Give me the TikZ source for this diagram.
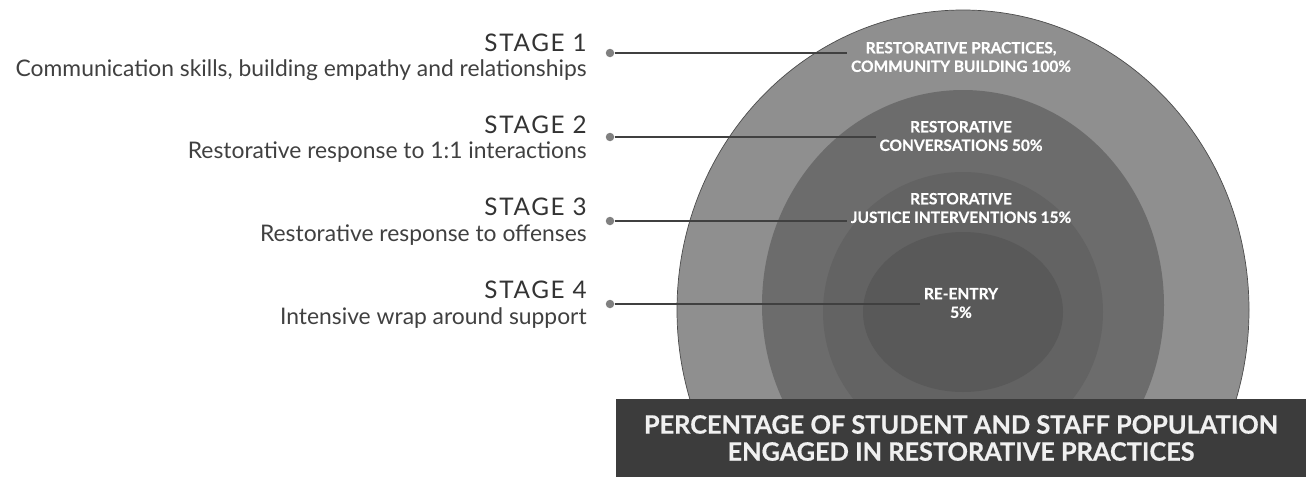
\documentclass[tikz,border=0pt]{standalone}
\usepackage{fontspec}
\setmainfont{Lato}
\usetikzlibrary{positioning}

\definecolor{ringA}{HTML}{8F8F8F}
\definecolor{ringB}{HTML}{6C6C6C}
\definecolor{ringC}{HTML}{636363}
\definecolor{ringD}{HTML}{595959}
\definecolor{capbox}{HTML}{3C3C3C}

\tikzset{
  stagetitle/.style={anchor=east, text=black!80, inner sep=0pt,
    font=\fontsize{13.8}{15}\selectfont\addfontfeature{LetterSpace=7}},
  stagedesc/.style={anchor=east, text=black!75, inner sep=0pt,
    font=\fontsize{13}{15}\selectfont},
  ringlabel/.style={align=center, text=white, inner sep=2pt,
    font=\bfseries\fontsize{8.8}{10.6}\selectfont\addfontfeature{FakeBold=0.8}},
  dotmark/.style={circle, fill=black!50, inner sep=0pt, minimum size=0.17cm},
  leader/.style={draw=black!75, line width=0.6pt}
}

\begin{document}
\begin{tikzpicture}[x=0.02cm, y=-0.02cm]
    \useasboundingbox (0,0) rectangle (1306,477);

    % Draw the rings
    \fill[ringA, draw=black!70] (963,310) ellipse [x radius=286, y radius=300];
    \fill[ringB] (963,305) ellipse [x radius=201, y radius=215];
    \fill[ringC] (963,312) ellipse [x radius=140, y radius=140];
    \fill[ringD] (963,312) ellipse [x radius=100, y radius=80];

    % Stage texts
    \node[stagetitle] (stage1) at (587,43) {STAGE 1};
    \node[stagedesc] (desc1) at (587,70) {Communication skills, building empathy and relationships};
    \node[stagetitle] (stage2) at (587,125) {STAGE 2};
    \node[stagedesc] (desc2) at (587,152) {Restorative response to 1:1 interactions};
    \node[stagetitle] (stage3) at (587,207) {STAGE 3};
    \node[stagedesc] (desc3) at (587,235) {Restorative response to offenses};
    \node[stagetitle] (stage4) at (587,290) {STAGE 4};
    \node[stagedesc] (desc4) at (587,318) {Intensive wrap around support};

    % Labels inside the rings
    \node[ringlabel] (lab1) at (961,57) {RESTORATIVE PRACTICES,\\COMMUNITY BUILDING 100\%};
    \node[ringlabel] (lab2) at (961,136) {RESTORATIVE\\CONVERSATIONS 50\%};
    \node[ringlabel] (lab3) at (961,208) {RESTORATIVE\\JUSTICE INTERVENTIONS 15\%};
    \node[ringlabel] (lab4) at (961,303) {RE-ENTRY\\5\%};

    % Dots and leader lines
    \node[dotmark] (dot1) at (610,53) {};
    \node[dotmark] (dot2) at (610,137) {};
    \node[dotmark] (dot3) at (610,221) {};
    \node[dotmark] (dot4) at (610,304) {};
    \draw[leader] (dot1) -- (dot1 -| lab1.west);
    \draw[leader] (dot2) -- (dot2 -| lab2.west);
    \draw[leader] (dot3) -- (dot3 -| lab3.west);
    \draw[leader] (dot4) -- (dot4 -| lab4.west);

    % Caption box
    \node[fill=capbox, text=white!94!black, align=center,
          minimum width=13.8cm, minimum height=1.56cm,
          font=\bfseries\fontsize{14.4}{15.4}\selectfont\addfontfeature{FakeBold=0.6}] (caption) at (961,438)
          {PERCENTAGE OF STUDENT AND STAFF POPULATION\\ENGAGED IN RESTORATIVE PRACTICES};
\end{tikzpicture}
\end{document}
